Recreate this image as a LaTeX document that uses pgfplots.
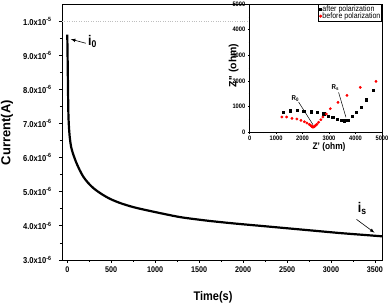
\documentclass[border=0pt]{standalone}
\usepackage{fontspec}
\setmainfont{Liberation Sans}[FakeStretch=0.88]
\newfontfamily\wide{Liberation Sans}
\usepackage{pgfplots}
\pgfplotsset{compat=1.18}
\begin{document}
\begin{tikzpicture}
\path[use as bounding box] (-62pt,-45pt) rectangle (330pt,260pt);
\begin{axis}[name=main, scale only axis, width=320pt, height=256pt,
  xmin=-60, xmax=3580, ymin=3, ymax=10.5,
  axis line style={line width=0.9pt},
  xtick={0,500,...,3500}, minor x tick num=1,
  ytick={3,...,10}, minor y tick num=1,
  yticklabels={3.0x10\textsuperscript{-6},4.0x10\textsuperscript{-6},5.0x10\textsuperscript{-6},6.0x10\textsuperscript{-6},7.0x10\textsuperscript{-6},8.0x10\textsuperscript{-6},9.0x10\textsuperscript{-6},1.0x10\textsuperscript{-5}},
  tick align=outside, xtick pos=bottom, ytick pos=left,
  major tick length=3pt, minor tick length=2pt,
  tick style={line width=0.8pt, black},
  ticklabel style={font=\fontsize{8.2}{9}\selectfont\bfseries},
  yticklabel style={font=\fontsize{8.6}{9}\selectfont\bfseries, xshift=-4pt},
  /pgf/number format/assume math mode=true,
  scaled x ticks=false,
  xticklabel style={/pgf/number format/set thousands separator={}},
  extra y ticks={10}, extra y tick labels={},
  extra y tick style={grid=major, major grid style={black!25, dotted, line width=0.5pt}, major tick length=0pt},
  xlabel={Time(s)}, ylabel={Current(A)},
  xlabel style={font=\fontsize{12.5}{14}\selectfont\bfseries, at={(axis description cs:0.472,-0.147)}, anchor=center},
  ylabel style={font=\wide\fontsize{13}{14}\selectfont\bfseries, at={(axis description cs:-0.172,0.498)}, anchor=center},
]
\addplot[black, line width=2.2pt, smooth] table {
t I
0 9.6
2 9.25
4 8.9
6 8.5
8 8.1
10 7.7
13 7.25
18 6.95
28 6.6
45 6.3
70 6.08
100 5.87
140 5.64
180 5.45
230 5.28
300 5.1
380 4.95
480 4.8
600 4.67
750 4.55
900 4.46
1100 4.35
1300 4.25
1600 4.15
1900 4.07
2200 4.0
2500 3.93
2800 3.86
3100 3.79
3400 3.73
3600 3.69
};
\draw[-{latex}, line width=0.6pt] (axis cs:210,9.35) -- (axis cs:40,9.47);
\node[anchor=west, inner sep=0pt, font=\fontsize{14}{15}\selectfont\bfseries] at (axis cs:235,9.40) {i\textsubscript{0}};
\draw[-{latex}, line width=0.6pt] (axis cs:3290,4.19) -- (axis cs:3495,3.80);
\node[inner sep=0pt, font=\fontsize{14}{15}\selectfont\bfseries] at (axis cs:3356,4.51) {i\textsubscript{s}};
\end{axis}
\begin{axis}[at={(main.north east)}, anchor=north east,
  scale only axis, width=132.4pt, height=128pt,
  xmin=0, xmax=5000, ymin=0, ymax=5000,
  axis background/.style={fill=white},
  axis line style={line width=0.8pt},
  xtick={0,1000,...,5000}, ytick={0,1000,...,5000}, minor tick num=1,
  tick align=outside, xtick pos=bottom, ytick pos=left,
  major tick length=1.8pt, minor tick length=1.1pt,
  tick style={line width=0.6pt, black},
  ticklabel style={font=\fontsize{6.5}{7}\selectfont\bfseries},
  xticklabel style={yshift=1pt},
  yticklabel style={xshift=1pt},
  /pgf/number format/assume math mode=true,
  scaled ticks=false,
  /pgf/number format/set thousands separator={},
  xlabel={Z' (ohm)}, ylabel={Z'' (ohm)},
  xlabel style={font=\fontsize{9.5}{10}\selectfont\bfseries, at={(axis description cs:0.6,-0.115)}, anchor=center},
  ylabel style={font=\wide\fontsize{10.5}{11}\selectfont\bfseries, at={(axis description cs:-0.121,0.52)}, anchor=center},
  legend style={at={(1,1)}, anchor=north east, font=\fontsize{8}{8.5}\selectfont, draw=black, line width=0.6pt, inner sep=0.6pt, row sep=-1.8pt, nodes={inner sep=0.7pt}},
  legend cell align=left,
]
\addplot[only marks, mark=square*, mark size=1.1pt, black] table {
x y
1260 766
1537 830
1790 845
2040 805
2318 790
2545 766
2795 715
2960 620
3135 570
3300 508
3463 460
3560 445
3650 450
3715 465
3867 609
4018 766
4207 975
4390 1262
4660 1625
};
\addlegendentry{after polarization}
\addplot[only marks, mark=*, mark size=1.2pt, red] table {
x y
1221 586
1400 586
1600 534
1788 508
1939 456
2070 400
2166 352
2250 300
2290 270
2316 247
2340 225
2360 210
2380 198
2400 195
2420 198
2440 210
2460 225
2480 247
2510 275
2540 300
2606 378
2690 480
2770 586
2896 703
3047 910
3337 1157
3676 1430
4180 1742
4773 1979
};
\addlegendentry{before polarization}
\draw[line width=0.5pt] (axis cs:1850,1172) -- (axis cs:2394,285);
\node[inner sep=0pt, font=\fontsize{7}{8}\selectfont\bfseries] at (axis cs:1726,1289) {R\textsubscript{0}};
\draw[line width=0.5pt] (axis cs:3361,1547) -- (axis cs:3640,570);
\node[inner sep=0pt, font=\fontsize{7}{8}\selectfont\bfseries] at (axis cs:3236,1719) {R\textsubscript{s}};
\end{axis}
\end{tikzpicture}
\end{document}
